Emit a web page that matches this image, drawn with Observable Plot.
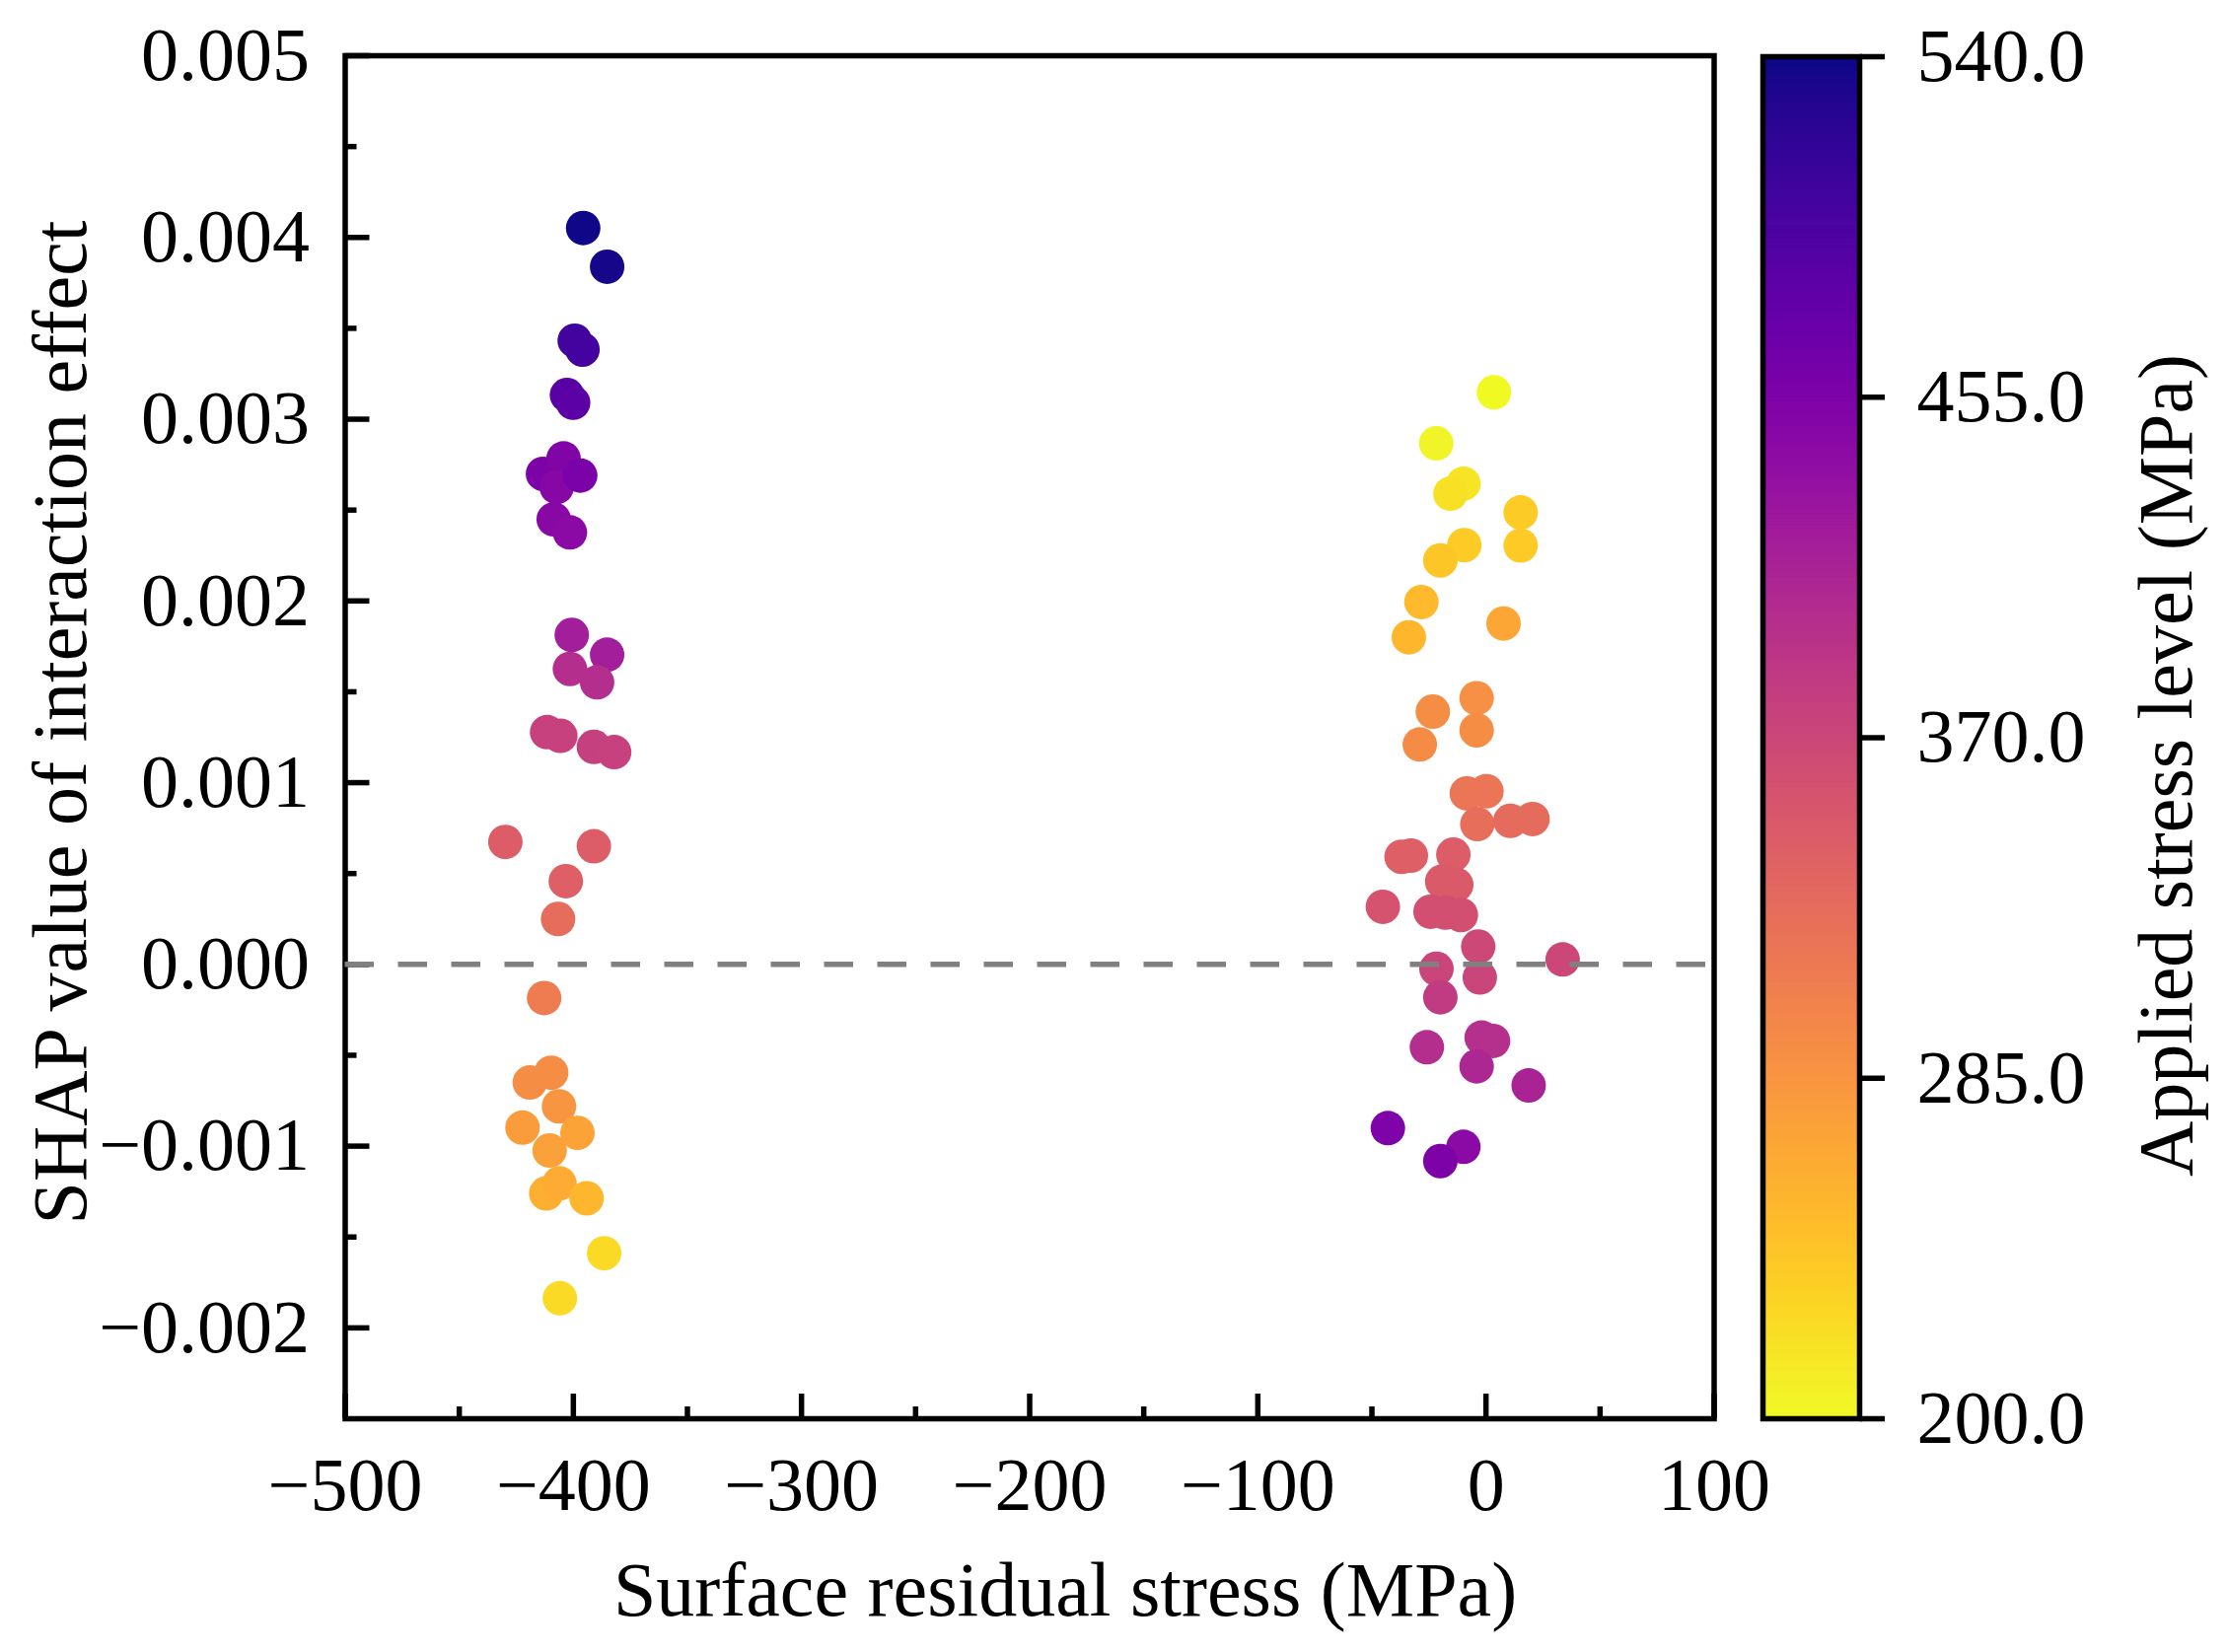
<!DOCTYPE html>
<html>
<head>
<meta charset="utf-8">
<script src="https://cdn.jsdelivr.net/npm/d3@7"></script>
<script src="https://cdn.jsdelivr.net/npm/@observablehq/plot@0.6"></script>
<style>
  html, body { margin: 0; padding: 0; background: #fff; }
  #chart { position: relative; width: 2258px; height: 1675px; background: #fff; }
  #chart svg { position: absolute; left: 0; top: 0; }
</style>
</head>
<body>
<div id="chart"></div>
<script>
// Surface residual stress (MPa) of each sample
const residualStress = [
  -395.7, -385.2, -399.4, -396.0, -402.8, -400.1, -413.3, -404.3, -407.3, -397.0,
  -408.6, -401.5, -400.7, -385.2, -401.5, -389.6, -411.5, -405.7, -391.0, -382.1,
  -429.8, -391.0, -403.3, -406.7, -412.8, -419.1, -409.7, -406.3, -422.3, -398.2,
  -410.4, -411.9, -406.1, -394.2, -386.5, -405.9,
  3.5, -21.8, -9.9, -15.6, 15.2, 15.2, -9.5, -20.0, -28.3, -33.8,
  7.7, -4.1, -23.3, -4.1, -29.0, -8.4, 0.2, -3.8, 10.7, 20.4,
  -37.0, -32.9, -14.3, -19.2, -13.0, -45.2, -24.3, -17.8, -11.0, -3.4,
  33.6, -21.7, -2.7, -20.0, -25.9, -1.9, 3.1, -4.1, 18.7, -43.0,
  -9.9, -20.0
];

// SHAP interaction value between residual stress and applied stress
const shapInteraction = [
  0.004052, 0.003839, 0.003432, 0.003383, 0.003133, 0.003091, 0.002699, 0.002784, 0.002627, 0.002690,
  0.002449, 0.002377, 0.001813, 0.001704, 0.001626, 0.001552, 0.001278, 0.001258, 0.001197, 0.001168,
  0.000674, 0.000650, 0.000458, 0.000250, -0.000185, -0.000650, -0.000596, -0.000781, -0.000898, -0.000927,
  -0.001024, -0.001260, -0.001205, -0.001287, -0.001589, -0.001837,
  0.003148, 0.002867, 0.002645, 0.002590, 0.002487, 0.002305, 0.002307, 0.002223, 0.001994, 0.001800,
  0.001876, 0.001465, 0.001391, 0.001288, 0.001210, 0.000941, 0.000953, 0.000772, 0.000790, 0.000800,
  0.000592, 0.000599, 0.000604, 0.000456, 0.000438, 0.000317, 0.000290, 0.000285, 0.000272, 0.000098,
  0.000027, -0.000024, -0.000072, -0.000181, -0.000456, -0.000403, -0.000421, -0.000561, -0.000666, -0.000901,
  -0.001004, -0.001082
];

// Applied stress level (MPa), shown as colour
const appliedStress = [
  538, 536, 506, 504, 487, 485, 456, 452, 448, 458,
  445, 443, 418, 418, 400, 400, 377, 377, 378, 377,
  344, 344, 342, 327, 309, 292, 292, 285, 278, 271,
  274, 261, 265, 254, 224, 224,
  201, 205, 217, 219, 236, 238, 236, 240, 251, 254,
  268, 290, 292, 292, 294, 316, 318, 326, 328, 328,
  342, 342, 344, 348, 348, 356, 360, 360, 360, 368,
  370, 372, 372, 384, 400, 398, 398, 408, 412, 455,
  442, 456
];

const xMajorTicks = [-500, -400, -300, -200, -100, 0, 100];
const xMinorTicks = [-450, -350, -250, -150, -50, 50];
const yMajorTicks = [-0.002, -0.001, 0.000, 0.001, 0.002, 0.003, 0.004, 0.005];
const yMinorTicks = [-0.0015, -0.0005, 0.0005, 0.0015, 0.0025, 0.0035, 0.0045];
const colorTicks = [200.0, 285.0, 370.0, 455.0, 540.0];

const xTitle = "Surface residual stress (MPa)";
const yTitle = "SHAP value of interaction effect";
const colorTitle = "Applied stress level (MPa)";

const points = residualStress.map((x, i) => ({
  stress: x,
  shap: shapInteraction[i],
  applied: appliedStress[i]
}));

const W = 2258, H = 1675;
const font = "'Liberation Serif', 'Times New Roman', Times, serif";
// plasma, running from yellow at low stress to deep blue at high stress
const colorScale = {type: "linear", domain: [200, 540], interpolate: t => d3.interpolatePlasma(1 - t)};
const lineW = 5.5;

// Scatter panel
const scatter = Plot.plot({
  width: W,
  height: H,
  marginLeft: 349.5,
  marginRight: 520.5,
  marginTop: 56,
  marginBottom: 237,
  style: {fontFamily: font, background: "#fff", color: "#000", overflow: "visible"},
  x: {domain: [-500, 100], label: null},
  y: {domain: [-0.0025, 0.005], label: null},
  color: colorScale,
  marks: [
    Plot.dot(points, {x: "stress", y: "shap", fill: "applied", r: 17.5}),
    Plot.frame({stroke: "#000", strokeWidth: lineW}),
    // inward ticks
    Plot.axisX(xMajorTicks, {tickSize: -25, strokeWidth: lineW, tickFormat: () => "", label: null}),
    Plot.axisX(xMinorTicks, {tickSize: -12, strokeWidth: lineW, tickFormat: () => "", label: null}),
    Plot.axisY(yMajorTicks, {tickSize: -25, strokeWidth: lineW, tickFormat: () => "", label: null}),
    Plot.axisY(yMinorTicks, {tickSize: -12, strokeWidth: lineW, tickFormat: () => "", label: null}),
    // zero reference line, drawn over the zero tick
    Plot.ruleY([0], {stroke: "#808080", strokeWidth: 5.5, strokeDasharray: "29.5 24.5"}),
    // tick labels
    Plot.axisX(xMajorTicks, {tickSize: 0, tickPadding: 39, tickFormat: "d", fontSize: 76, label: null}),
    Plot.axisY(yMajorTicks, {tickSize: 0, tickPadding: 36, tickFormat: ".3f", fontSize: 76, label: null}),
    // axis titles
    Plot.text([xTitle], {text: d => d, frameAnchor: "bottom", textAnchor: "middle", dx: 36, dy: 175, fontSize: 78, lineAnchor: "middle"}),
    Plot.text([yTitle], {text: d => d, frameAnchor: "left", textAnchor: "middle", dx: -287.5, dy: -15, rotate: -90, fontSize: 78, lineAnchor: "middle"})
  ]
});

// Colour bar for the applied stress level
const levels = d3.range(200, 540, 1);
const colorbar = Plot.plot({
  width: W,
  height: H,
  marginLeft: 1787,
  marginRight: 373,
  marginTop: 57,
  marginBottom: 237,
  style: {fontFamily: font, background: "transparent", color: "#000", overflow: "visible"},
  y: {domain: [200, 540], label: null},
  color: colorScale,
  marks: [
    Plot.rect(levels, {y1: d => d, y2: d => d + 1, fill: d => d + 0.5, insetTop: -0.6, insetBottom: -0.6}),
    Plot.frame({stroke: "#000", strokeWidth: lineW}),
    Plot.axisY(colorTicks, {anchor: "right", tickSize: 25, tickPadding: 33, strokeWidth: lineW, tickFormat: ".1f", fontSize: 76, label: null}),
    Plot.text([colorTitle], {text: d => d, frameAnchor: "right", textAnchor: "middle", dx: 312, dy: 28, rotate: -90, fontSize: 78, lineAnchor: "middle"})
  ]
});

const chart = document.getElementById("chart");
chart.appendChild(scatter);
chart.appendChild(colorbar);
</script>
</body>
</html>
